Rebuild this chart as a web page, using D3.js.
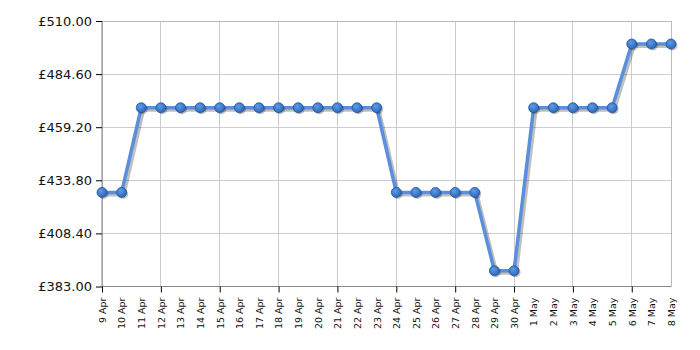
<!DOCTYPE html>
<html><head><meta charset="utf-8">
<script src="https://cdn.jsdelivr.net/npm/d3@7/dist/d3.min.js"></script>
<style>body{margin:0;background:#fff}svg{display:block}</style>
</head><body><svg id="c" width="700" height="350"></svg>
<script>
const dates = ["9 Apr","10 Apr","11 Apr","12 Apr","13 Apr","14 Apr","15 Apr","16 Apr","17 Apr","18 Apr","19 Apr","20 Apr","21 Apr","22 Apr","23 Apr","24 Apr","25 Apr","26 Apr","27 Apr","28 Apr","29 Apr","30 Apr","1 May","2 May","3 May","4 May","5 May","6 May","7 May","8 May"];
const prices = [428,428,468.5,468.5,468.5,468.5,468.5,468.5,468.5,468.5,468.5,468.5,468.5,468.5,468.5,428,428,428,428,428,390.5,390.5,468.5,468.5,468.5,468.5,468.5,499,499,499];
const yTicks = [383,408.4,433.8,459.2,484.6,510];

const svg = d3.select("#c");
const L=102, R=671, T=21, B=286.5;
const x = d3.scalePoint().domain(dates).range([L,R]);
const y = d3.scaleLinear().domain([383,510]).range([B,T]);
const font = "Verdana, 'DejaVu Sans', sans-serif";

const defs = svg.append("defs");
const g = defs.append("radialGradient").attr("id","dot").attr("cx","40%").attr("cy","35%").attr("r","65%");
g.append("stop").attr("offset","0%").attr("stop-color","#5f9be6");
g.append("stop").attr("offset","100%").attr("stop-color","#2d66b8");

// grid
const gridIdx = dates.map((d,i)=>i).filter(i=>i%3===0);
svg.append("g").selectAll("line").data(gridIdx).join("line")
  .attr("x1",i=>x(dates[i])).attr("x2",i=>x(dates[i])).attr("y1",T).attr("y2",B)
  .attr("stroke","#cccccc").attr("stroke-width",1).attr("shape-rendering","crispEdges");
svg.append("g").selectAll("line").data(yTicks).join("line")
  .attr("x1",L).attr("x2",R).attr("y1",d=>y(d)).attr("y2",d=>y(d))
  .attr("stroke","#cccccc").attr("stroke-width",1).attr("shape-rendering","crispEdges");
// frame
svg.append("rect").attr("x",L).attr("y",T).attr("width",R-L).attr("height",B-T)
  .attr("fill","none").attr("stroke","#bbbbbb").attr("shape-rendering","crispEdges");

// y axis
const yAxis = d3.axisLeft(y).tickValues(yTicks).tickSize(6).tickPadding(4).tickFormat(d=>"£"+d3.format(".2f")(d));
const ya = svg.append("g").attr("transform",`translate(${L},0)`).call(yAxis);
ya.select(".domain").attr("stroke","#888").attr("d",`M0,${T}V${B}`);
ya.selectAll(".tick line").attr("stroke","#000");
ya.selectAll("text").attr("font-family",font).attr("font-size","13px").attr("fill","#111");

// x axis
const xAxis = d3.axisBottom(x).tickSize(0).tickPadding(0);
const xa = svg.append("g").attr("transform",`translate(0,${B})`).call(xAxis);
xa.select(".domain").attr("stroke","#888").attr("d",`M${L},0H${R}`);
xa.selectAll(".tick").filter((d,i)=>i%3===0).append("line").attr("y2",6).attr("stroke","#000");
xa.selectAll("text").attr("font-family",font).attr("font-size","9.5px").attr("fill","#111")
  .attr("text-anchor","end").attr("dy","0.35em").attr("transform","translate(0,11) rotate(-90)").attr("x",0).attr("y",0);

// shadow line
const line = d3.line().x((d,i)=>x(dates[i])).y(d=>y(d));
svg.append("path").datum(prices).attr("d",line).attr("fill","none")
  .attr("stroke","rgba(0,0,0,0.25)").attr("stroke-width",4).attr("transform","translate(2,2)");
svg.append("path").datum(prices).attr("d",line).attr("fill","none")
  .attr("stroke","#5b8fdc").attr("stroke-width",3.5).attr("stroke-linejoin","round");
// dots
svg.append("g").selectAll("circle").data(prices).join("circle")
  .attr("cx",(d,i)=>x(dates[i])+1.5).attr("cy",d=>y(d)+1.5).attr("r",5).attr("fill","rgba(0,0,0,0.25)");
svg.append("g").selectAll("circle").data(prices).join("circle")
  .attr("cx",(d,i)=>x(dates[i])).attr("cy",d=>y(d)).attr("r",5)
  .attr("fill","url(#dot)").attr("stroke","#25559c").attr("stroke-width",0.8);
</script></body></html>
